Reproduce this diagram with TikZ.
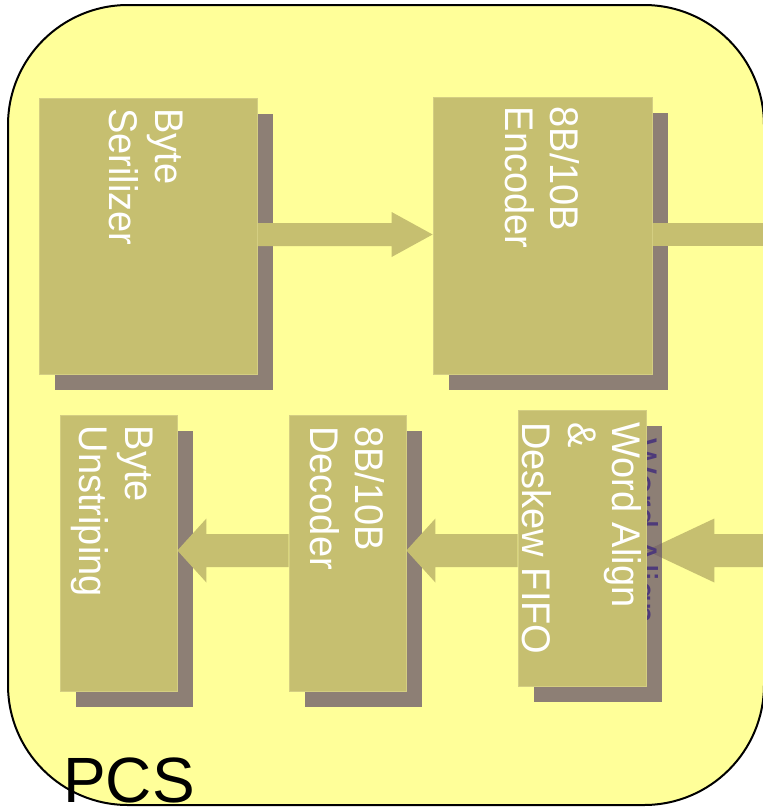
\documentclass[tikz,border=0pt]{standalone}
\usepackage{fontspec}
\setmainfont{Liberation Sans}
\newfontfamily\labfont[FakeStretch=0.95]{Liberation Sans}
\usetikzlibrary{calc}

\definecolor{pcsyellow}{RGB}{255,255,153}
\definecolor{blkolive}{RGB}{198,191,112}
\definecolor{blkedge}{RGB}{212,206,130}
\definecolor{shadowdeep}{RGB}{100,80,105}
\definecolor{ghosttext}{RGB}{78,58,122}

\pgfdeclarelayer{frame}
\pgfdeclarelayer{under}
\pgfdeclarelayer{shade}
\pgfdeclarelayer{flowlayer}
\pgfsetlayers{frame,under,shade,flowlayer,main}

% block arrow: from, to, shaft half width, head half width, head length
\newcommand\flowarrow[5]{%
  \path ($(#2)!#5pt!(#1)$) coordinate (hb);
  \fill[flowfill] ($(#1)!#3pt!90:(#2)$) -- ($(hb)!#3pt!90:(#2)$)
    -- ($(hb)!#4pt!90:(#2)$) -- (#2) -- ($(hb)!#4pt!-90:(#2)$)
    -- ($(hb)!#3pt!-90:(#2)$) -- ($(#1)!#3pt!-90:(#2)$) -- cycle;}

% drop shadow behind a block
\newcommand\blkshadow[1]{%
  \fill[shadowfill] ($(#1.south west)+(16,16)$) rectangle ($(#1.north east)+(16,16)$);}

\begin{document}
\begin{tikzpicture}[x=1pt,y=-1pt,
  blk/.style={fill=blkolive, draw=blkedge, line width=0.8pt, inner sep=0pt},
  flowfill/.style={fill=blkolive},
  shadowfill/.style={fill=shadowdeep, fill opacity=0.73},
  lbl/.style={text=white, font=\labfont\fontsize{40}{46}\selectfont,
    rotate=-90, anchor=base west, inner sep=0pt},
  ghost/.style={lbl, text=ghosttext}]
\useasboundingbox (0,0) rectangle (763,809);

% PCS frame
\begin{pgfonlayer}{frame}
  \draw[line width=2pt, fill=pcsyellow, rounded corners=120pt] (8,5) rectangle (764,805);
\end{pgfonlayer}

% blocks
\node[blk, minimum width=218, minimum height=276] (ser) at (148,236) {};
\node[blk, minimum width=219, minimum height=277] (enc) at (542.5,235.5) {};
\node[blk, minimum width=117, minimum height=276] (unstr) at (118.5,553) {};
\node[blk, minimum width=117, minimum height=276] (dec) at (347.5,553) {};
\node[blk, minimum width=128, minimum height=276] (word) at (582,548) {};

% block labels
\node[lbl] (serA) at (155,108) {Byte};
\node[lbl] (serB) at (109,108) {Serilizer};
\node[lbl] (encA) at (550,106.5) {8B/10B};
\node[lbl] (encB) at (505,106.5) {Encoder};
\node[lbl] (unstrA) at (125,425.5) {Byte};
\node[lbl] (unstrB) at (79,425.5) {Unstriping};
\node[lbl] (decA) at (355,426) {8B/10B};
\node[lbl] (decB) at (310,426) {Decoder};
\node[lbl] (wordA) at (612,422) {Word Align};
\node[lbl] (wordB) at (568,422) {\&};
\node[lbl] (wordC) at (522,422) {Deskew FIFO};

% data path end points
\coordinate (outR) at (770,234.5);
\coordinate (inR) at (770,550.5);
\coordinate (serOut) at (ser.east |- outR);
\coordinate (encIn) at (enc.west |- outR);
\coordinate (encOut) at (enc.east |- outR);
\coordinate (wordIn) at (word.east |- inR);
\coordinate (wordOut) at (word.west |- inR);
\coordinate (decIn) at (dec.east |- inR);
\coordinate (decOut) at (dec.west |- inR);
\coordinate (unstrIn) at (unstr.east |- inR);

% incoming receive arrow sits beneath the shadows
\begin{pgfonlayer}{under}
  \flowarrow{inR}{wordIn}{16.5}{32}{68}
\end{pgfonlayer}

% shadows
\begin{pgfonlayer}{shade}
  \blkshadow{ser}
  \blkshadow{enc}
  \blkshadow{unstr}
  \blkshadow{dec}
  \blkshadow{word}
  \node[ghost] (wordGhost) at (629,438) {Word Align};
\end{pgfonlayer}

% data path arrows
\begin{pgfonlayer}{flowlayer}
  \flowarrow{serOut}{encIn}{11.5}{22.5}{41}
  \fill[flowfill] ($(encOut)+(0,-11.5)$) rectangle ($(outR)+(0,11.5)$);
  \flowarrow{wordOut}{decIn}{16.5}{32}{29}
  \flowarrow{decOut}{unstrIn}{16.5}{32}{29}
\end{pgfonlayer}

% layer label
\node[font=\fontsize{64}{64}\selectfont, anchor=base west, inner sep=0pt] (pcs) at (63,802) {PCS};
\end{tikzpicture}
\end{document}
